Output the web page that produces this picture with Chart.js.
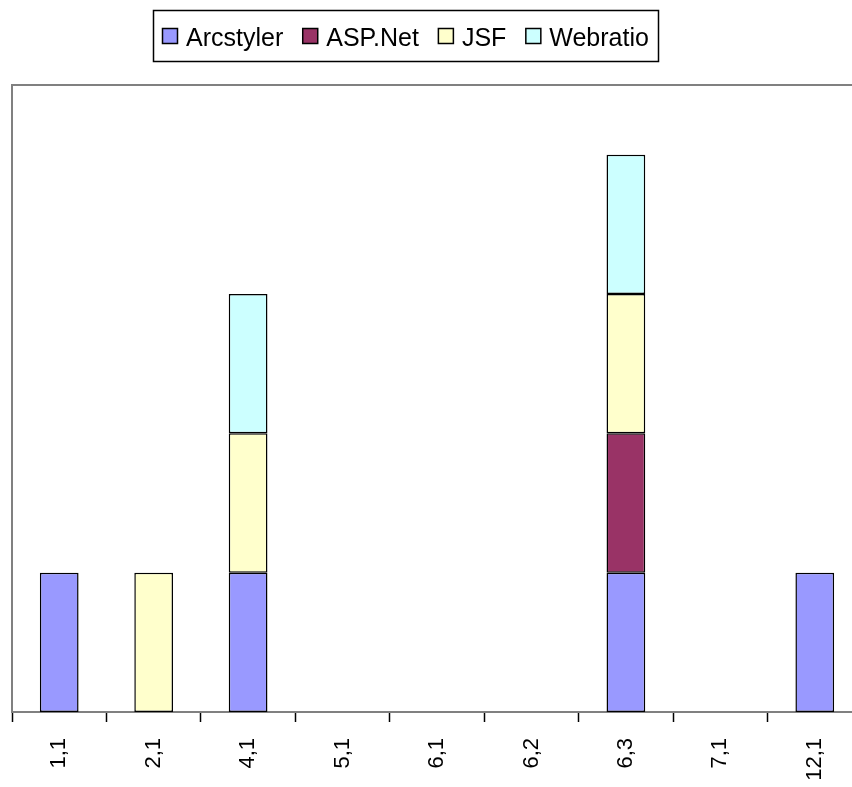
<!DOCTYPE html>
<html>
<head>
<meta charset="utf-8">
<script src="https://cdn.jsdelivr.net/npm/chart.js@4/dist/chart.umd.min.js"></script>
<style>
  html, body { margin: 0; padding: 0; background: #fff; overflow: hidden; }
  canvas { display: block; }
</style>
</head>
<body>
<canvas id="barChart" width="862" height="787"></canvas>
<script>
var categories = ['1,1', '2,1', '4,1', '5,1', '6,1', '6,2', '6,3', '7,1', '12,1'];
var arcstyler = [1, null, 1, null, null, null, 1, null, 1];
var aspNet    = [null, null, null, null, null, null, 1, null, null];
var jsf       = [null, 1, 1, null, null, null, 1, null, null];
var webratio  = [null, null, 1, null, null, null, 1, null, null];

var seriesNames  = ['Arcstyler', 'ASP.Net', 'JSF', 'Webratio'];
var seriesColors = ['#9999FF', '#993366', '#FFFFCC', '#CCFFFF'];
var seriesData   = [arcstyler, aspNet, jsf, webratio];

var fontFamily = '"Liberation Sans", Arial, sans-serif';

// grey frame around the plot area, drawn behind the bars
var plotFrame = {
    id: 'plotFrame',
    beforeDatasetsDraw: function (chart) {
        var a = chart.chartArea, ctx = chart.ctx;
        ctx.save();
        ctx.strokeStyle = '#808080';
        ctx.lineWidth = 2;
        ctx.strokeRect(a.left, a.top, a.right - a.left, a.bottom - a.top);
        ctx.restore();
    }
};

// boxed legend in one row above the plot
var boxLegend = {
    id: 'boxLegend',
    afterDraw: function (chart) {
        var ctx = chart.ctx;
        ctx.save();
        ctx.font = '25px ' + fontFamily;
        ctx.textBaseline = 'alphabetic';
        var x = 162;
        chart.data.datasets.forEach(function (ds) {
            ctx.fillStyle = ds.backgroundColor;
            ctx.fillRect(x, 28, 15, 15);
            ctx.strokeStyle = '#000';
            ctx.lineWidth = 1.5;
            ctx.strokeRect(x + 0.5, 28.5, 15, 15);
            ctx.fillStyle = '#000';
            ctx.fillText(ds.label, x + 24, 46);
            x += 24 + ctx.measureText(ds.label).width + 19;
        });
        ctx.strokeStyle = '#000';
        ctx.lineWidth = 1.5;
        ctx.strokeRect(153.5, 10.5, 505, 51);
        ctx.restore();
    }
};

var ctx = document.getElementById('barChart');
var myBarChart = new Chart(ctx, {
    type: 'bar',
    data: {
        labels: categories,
        datasets: seriesNames.map(function (name, i) {
            return {
                label: name,
                data: seriesData[i],
                backgroundColor: seriesColors[i],
                borderColor: '#000',
                borderWidth: 1.5,
                borderSkipped: false,
                barPercentage: 0.41,
                categoryPercentage: 1
            };
        })
    },
    options: {
        responsive: false,
        animation: false,
        layout: { padding: { left: 12, top: 85, right: 0, bottom: 0 } },
        plugins: {
            legend: { display: false },
            tooltip: { enabled: false }
        },
        scales: {
            x: {
                stacked: true,
                afterFit: function (s) { s.height = 75; },
                grid: {
                    drawOnChartArea: false,
                    drawTicks: true,
                    tickLength: 10,
                    tickColor: '#000',
                    tickWidth: 1.5,
                    offset: true
                },
                border: { color: '#000', width: 1.5 },
                ticks: {
                    minRotation: 90,
                    maxRotation: 90,
                    padding: 16,
                    color: '#000',
                    font: { family: fontFamily, size: 22 }
                }
            },
            y: {
                stacked: true,
                display: false,
                min: 0,
                max: 4.5
            }
        }
    },
    plugins: [plotFrame, boxLegend]
});
</script>
</body>
</html>
